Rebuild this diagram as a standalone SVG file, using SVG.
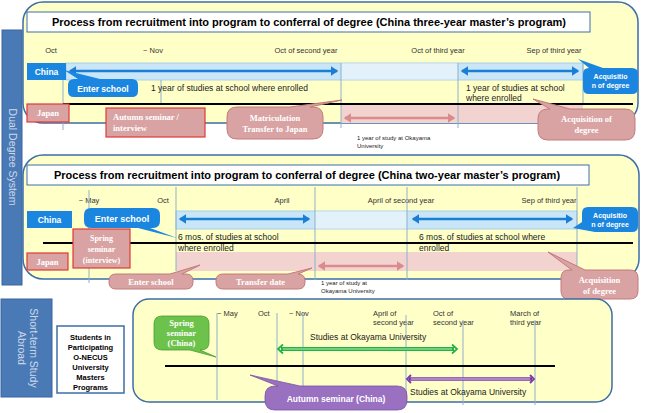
<svg xmlns="http://www.w3.org/2000/svg" width="650" height="413" viewBox="0 0 650 413">
<defs>
<style>
.panel{fill:#ffffc8;stroke:#3d6ea8;stroke-width:1.5}
.tbox{fill:#fff;stroke:#3d6ea8;stroke-width:1}
.title{font-family:"Liberation Sans",Arial,sans-serif;font-weight:bold;font-size:11px;fill:#000}
.mon{font-family:"Liberation Sans",Arial,sans-serif;font-size:7.5px;fill:#333}
.txt{font-family:"Liberation Sans",Arial,sans-serif;font-size:8.5px;fill:#222}
.sm{font-family:"Liberation Sans",Arial,sans-serif;font-size:6px;fill:#222}
.vl{stroke:#8fb0c8;stroke-width:1}
.bl{stroke:#000;stroke-width:2}
.cbox{fill:#1a86e0}
.wb{font-family:"Liberation Sans",Arial,sans-serif;font-weight:bold;fill:#fff}
.pink{fill:#d9a3a3;stroke:#e03a3a;stroke-width:1.2}
.pcall{fill:#d9a3a3;stroke:#c27b7b;stroke-width:1}
.wser{font-family:"Liberation Serif","Times New Roman",serif;font-weight:bold;fill:#fff}
.band{fill:#c8e6f8;stroke:#9cc8e6;stroke-width:0.8}
.bandl{fill:#e2f1fa}
.pband{fill:#f2d3cf}
.barr{stroke:#1a7fd4;stroke-width:2.5;fill:none}
.parr{stroke:#d98c8c;stroke-width:2.5;fill:none}
.side{fill:#4a7ab5;stroke:#3a64a0;stroke-width:1}
.sidet{font-family:"Liberation Sans",Arial,sans-serif;font-size:10.5px;fill:#ccd8ea}
</style>
<marker id="bh" markerWidth="4" markerHeight="4" refX="2.5" refY="2" orient="auto-start-reverse" markerUnits="strokeWidth">
<path d="M0,0 L3,2 L0,4 Z" fill="#1a7fd4"/>
</marker>
<marker id="ph" markerWidth="4" markerHeight="4" refX="2.5" refY="2" orient="auto-start-reverse" markerUnits="strokeWidth">
<path d="M0,0 L3,2 L0,4 Z" fill="#d98c8c"/>
</marker>
</defs>

<!-- Side bars -->
<g id="dual-degree-bar">
<rect class="side" x="2" y="30" width="20" height="255"/>
<text class="sidet" transform="translate(8.5,157) rotate(90)" text-anchor="middle">Dual Degree System</text>
</g>
<g id="short-term-bar">
<rect class="side" x="1" y="299" width="51" height="98"/>
<text class="sidet" transform="translate(30,348) rotate(90)" text-anchor="middle">Short-term Study</text>
<text class="sidet" transform="translate(18,348) rotate(90)" text-anchor="middle">Abroad</text>
</g>
<g id="students-box">
<rect x="57" y="326" width="67" height="67" fill="#fff" stroke="#3d6ea8" stroke-width="1.5"/>
<g font-family="Liberation Sans,Arial,sans-serif" font-weight="bold" font-size="7.5" fill="#000" text-anchor="middle">
<text x="90.5" y="340">Students in</text>
<text x="90.5" y="350">Participating</text>
<text x="90.5" y="360">O-NECUS</text>
<text x="90.5" y="370">University</text>
<text x="90.5" y="380">Masters</text>
<text x="90.5" y="390">Programs</text>
</g>
</g>

<!-- Panel 1 -->
<g id="panel1">
<rect class="panel" x="23" y="2" width="615" height="121" rx="20"/>
<rect class="tbox" x="27" y="12" width="563" height="20"/>
<text class="title" x="309" y="26" text-anchor="middle">Process from recruitment into program to conferral of degree (China three-year master’s program)</text>
<text class="mon" x="51" y="53" text-anchor="middle">Oct</text>
<text class="mon" x="153" y="53" text-anchor="middle">~ Nov</text>
<text class="mon" x="306" y="53" text-anchor="middle">Oct of second year</text>
<text class="mon" x="438" y="53" text-anchor="middle">Oct of third year</text>
<text class="mon" x="554" y="53" text-anchor="middle">Sep of third year</text>
<rect class="band" x="66" y="63" width="517" height="17"/>
<rect class="bandl" x="341" y="63.5" width="117" height="16"/>
<rect class="pband" x="341" y="105" width="242" height="18"/>
<line class="vl" x1="63" y1="80" x2="63" y2="130"/>
<line class="vl" x1="161" y1="80" x2="161" y2="104"/>
<line class="vl" x1="341" y1="63" x2="341" y2="128"/>
<line class="vl" x1="458" y1="63" x2="458" y2="128"/>
<line class="vl" x1="583" y1="63" x2="583" y2="104"/>
<line class="bl" x1="63" y1="104" x2="633" y2="104"/>
<line class="barr" x1="70" y1="71" x2="337" y2="71" marker-start="url(#bh)" marker-end="url(#bh)"/>
<line class="barr" x1="462" y1="71" x2="578" y2="71" marker-start="url(#bh)" marker-end="url(#bh)"/>
<line class="parr" x1="345" y1="118" x2="454" y2="118" marker-start="url(#ph)" marker-end="url(#ph)"/>
<text class="txt" x="151" y="91">1 year of studies at school where enrolled</text>
<text class="txt" x="466" y="91">1 year of studies at school</text>
<text class="txt" x="466" y="101">where enrolled</text>
<text class="sm" x="357" y="140">1 year of study at Okayama</text>
<text class="sm" x="357" y="148">University</text>
</g>
<g id="p1-china">
<rect class="cbox" x="27" y="63" width="39" height="17"/>
<text class="wb" x="46.5" y="75" font-size="8.5" text-anchor="middle">China</text>
</g>
<g id="p1-japan">
<rect class="pink" x="27" y="104" width="42" height="18"/>
<text class="wser" x="48" y="116" font-size="8.5" text-anchor="middle">Japan</text>
</g>
<g id="p1-autumn">
<rect class="pink" x="106" y="108" width="99" height="29"/>
<text class="wser" x="113" y="120" font-size="8.5">Autumn seminar /</text>
<text class="wser" x="113" y="131" font-size="8.5">interview</text>
</g>
<g id="p1-enter">
<path class="cbox" d="M74 79 L78 79 L64 70 L100 79 L132 79 Q138 79 138 85 L138 91 Q138 97 132 97 L74 97 Q68 97 68 91 L68 85 Q68 79 74 79 Z"/>
<text class="wb" x="103" y="91.5" font-size="8.5" text-anchor="middle">Enter school</text>
</g>
<g id="p1-acq-cn">
<path class="cbox" d="M589 68 L578 59 L603 68 L632 68 Q638 68 638 74 L638 88 Q638 94 632 94 L589 94 Q583 94 583 88 L583 74 Q583 68 589 68 Z"/>
<text class="wb" x="610.5" y="79" font-size="7" text-anchor="middle">Acquisitio</text>
<text class="wb" x="610.5" y="88" font-size="7" text-anchor="middle">n of degree</text>
</g>
<g id="p1-matric">
<path class="pcall" d="M237 107 L290 107 L342 100 L310 107 L313 107 Q323 107 323 117 L323 129 Q323 139 313 139 L237 139 Q227 139 227 129 L227 117 Q227 107 237 107 Z"/>
<text class="wser" x="275" y="121" font-size="8.5" text-anchor="middle">Matriculation</text>
<text class="wser" x="275" y="132" font-size="8.5" text-anchor="middle">Transfer to Japan</text>
</g>
<g id="p1-acq-jp">
<path class="pcall" d="M548 109 L550 109 L533 99 L570 109 L625 109 Q635 109 635 119 L635 130 Q635 140 625 140 L548 140 Q538 140 538 130 L538 119 Q538 109 548 109 Z"/>
<text class="wser" x="586.5" y="122" font-size="8.5" text-anchor="middle">Acquisition of</text>
<text class="wser" x="586.5" y="133" font-size="8.5" text-anchor="middle">degree</text>
</g>

<!-- Panel 2 -->
<g id="panel2">
<rect class="panel" x="23" y="155" width="616" height="124" rx="20"/>
<rect class="tbox" x="27" y="165" width="562" height="20"/>
<text class="title" x="307" y="179" text-anchor="middle">Process from recruitment into program to conferral of degree (China two-year master’s program)</text>
<text class="mon" x="89" y="203" text-anchor="middle">~ May</text>
<text class="mon" x="163" y="203" text-anchor="middle">Oct</text>
<text class="mon" x="282" y="203" text-anchor="middle">April</text>
<text class="mon" x="401" y="203" text-anchor="middle">April of second year</text>
<text class="mon" x="549" y="203" text-anchor="middle">Sep of third year</text>
<rect class="band" x="176" y="211" width="401" height="18"/>
<rect class="bandl" x="315" y="211.5" width="92" height="17"/>
<rect class="pband" x="176" y="252" width="401" height="19"/>
<line class="vl" x1="89" y1="190" x2="89" y2="283"/>
<line class="vl" x1="176" y1="187" x2="176" y2="271"/>
<line class="vl" x1="315" y1="187" x2="315" y2="280"/>
<line class="vl" x1="407" y1="187" x2="407" y2="280"/>
<line class="vl" x1="577" y1="187" x2="577" y2="271"/>
<line class="bl" x1="43" y1="243" x2="633" y2="243"/>
<line class="barr" x1="180" y1="219" x2="309" y2="219" marker-start="url(#bh)" marker-end="url(#bh)"/>
<line class="barr" x1="413" y1="219" x2="572" y2="219" marker-start="url(#bh)" marker-end="url(#bh)"/>
<line class="parr" x1="319" y1="266" x2="403" y2="266" marker-start="url(#ph)" marker-end="url(#ph)"/>
<text class="txt" x="178" y="240">6 mos. of studies at school</text>
<text class="txt" x="178" y="251">where enrolled</text>
<text class="txt" x="419" y="240">6 mos. of studies at school where</text>
<text class="txt" x="419" y="251">enrolled</text>
<text class="sm" x="321" y="285">1 year of study at</text>
<text class="sm" x="321" y="293">Okayama University</text>
</g>
<g id="p2-china">
<rect class="cbox" x="27" y="211" width="45" height="17"/>
<text class="wb" x="49.5" y="223" font-size="8.5" text-anchor="middle">China</text>
</g>
<g id="p2-japan">
<rect class="pink" x="27" y="253" width="41" height="17"/>
<text class="wser" x="47.5" y="265" font-size="8.5" text-anchor="middle">Japan</text>
</g>
<g id="p2-spring">
<rect class="pink" x="73" y="229" width="57" height="39"/>
<text class="wser" x="101.5" y="241" font-size="8" text-anchor="middle">Spring</text>
<text class="wser" x="101.5" y="252" font-size="8" text-anchor="middle">seminar</text>
<text class="wser" x="101.5" y="263" font-size="8" text-anchor="middle">(interview)</text>
</g>
<g id="p2-enter">
<path class="cbox" d="M91 208 L153 208 Q160 208 160 215 L160 221 Q160 228 153 228 L150 228 L177 238 L138 228 L91 228 Q84 228 84 221 L84 215 Q84 208 91 208 Z"/>
<text class="wb" x="122" y="221.5" font-size="9" text-anchor="middle">Enter school</text>
</g>
<g id="p2-acq-cn">
<path class="cbox" d="M588 207 L632 207 Q638 207 638 213 L638 226 Q638 232 632 232 L595 232 L573 228 L582 222 L582 213 Q582 207 588 207 Z"/>
<text class="wb" x="610" y="217.5" font-size="7" text-anchor="middle">Acquisitio</text>
<text class="wb" x="610" y="226.5" font-size="7" text-anchor="middle">n of degree</text>
</g>
<g id="p2-enter-jp">
<path class="pcall" d="M116 274 L170 274 L200 265 L182 274 L186 274 Q193 274 193 281 L193 282 Q193 289 186 289 L116 289 Q109 289 109 282 L109 281 Q109 274 116 274 Z"/>
<text class="wser" x="151" y="285" font-size="8.5" text-anchor="middle">Enter school</text>
</g>
<g id="p2-transfer">
<path class="pcall" d="M223 274 L288 274 L312 268 L298 274 L298 274 Q305 274 305 281 L305 282 Q305 289 298 289 L223 289 Q216 289 216 282 L216 281 Q216 274 223 274 Z"/>
<text class="wser" x="260.5" y="285" font-size="8.5" text-anchor="middle">Transfer date</text>
</g>
<g id="p2-acq-jp">
<path class="pcall" d="M569 270 L572 270 L548 252 L585 270 L630 270 Q638 270 638 278 L638 291 Q638 299 630 299 L569 299 Q561 299 561 291 L561 278 Q561 270 569 270 Z"/>
<text class="wser" x="599.5" y="283" font-size="8.5" text-anchor="middle">Acquisition</text>
<text class="wser" x="599.5" y="294" font-size="8.5" text-anchor="middle">of degree</text>
</g>

<!-- Panel 3 -->
<g id="panel3">
<rect class="panel" x="133" y="299" width="479" height="103" rx="16"/>
<text class="mon" x="217" y="316">~ May</text>
<text class="mon" x="258" y="316">Oct</text>
<text class="mon" x="289" y="316">~ Nov</text>
<text class="mon" x="373" y="316">April of</text>
<text class="mon" x="373" y="325">second year</text>
<text class="mon" x="433" y="316">Oct of</text>
<text class="mon" x="433" y="325">second year</text>
<text class="mon" x="510" y="316">March of</text>
<text class="mon" x="510" y="325">third year</text>
<line class="vl" x1="217" y1="313" x2="217" y2="400"/>
<line class="vl" x1="277" y1="313" x2="277" y2="400"/>
<line class="vl" x1="303" y1="313" x2="303" y2="400"/>
<line class="vl" x1="406" y1="315" x2="406" y2="400"/>
<line class="vl" x1="463" y1="320" x2="463" y2="405"/>
<line class="vl" x1="535" y1="320" x2="535" y2="405"/>
<line class="bl" x1="165" y1="366" x2="555" y2="366"/>
<text class="txt" x="310" y="340">Studies at Okayama University</text>
<text class="txt" x="410" y="395">Studies at Okayama University</text>
</g>
<g id="green-arrow">
<line x1="281" y1="349" x2="454" y2="349" stroke="#22b14c" stroke-width="4"/>
<line x1="283" y1="349" x2="452" y2="349" stroke="#b9f0a8" stroke-width="1.2"/>
<polyline points="283,344.5 278,349 283,353.5" fill="none" stroke="#22b14c" stroke-width="1.8"/>
<polyline points="452,344.5 457,349 452,353.5" fill="none" stroke="#22b14c" stroke-width="1.8"/>
</g>
<g id="purple-arrow">
<line x1="409" y1="379" x2="532" y2="379" stroke="#7a3aa8" stroke-width="3.5"/>
<line x1="411" y1="379" x2="530" y2="379" stroke="#e4cdf2" stroke-width="1"/>
<polyline points="411,375 407,379 411,383" fill="none" stroke="#7a3aa8" stroke-width="1.8"/>
<polyline points="530,375 534,379 530,383" fill="none" stroke="#7a3aa8" stroke-width="1.8"/>
</g>
<g id="spring-china">
<path d="M162 316 L201 316 Q209 316 209 324 L209 342 Q209 350 201 350 L200 350 L216 357 L190 350 L162 350 Q154 350 154 342 L154 324 Q154 316 162 316 Z" fill="#6cc24a" stroke="#4aa030" stroke-width="0.8"/>
<text class="wser" x="181.5" y="326" font-size="8.5" text-anchor="middle">Spring</text>
<text class="wser" x="181.5" y="336" font-size="8.5" text-anchor="middle">seminar</text>
<text class="wser" x="181.5" y="346" font-size="8.5" text-anchor="middle">(China)</text>
</g>
<g id="autumn-china">
<path d="M275 386 L278 386 L250 375 L300 386 L397 386 Q407 386 407 396 L407 400 Q407 410 397 410 L275 410 Q265 410 265 400 L265 396 Q265 386 275 386 Z" fill="#9a70c0" stroke="#7a50a8" stroke-width="0.8"/>
<text class="wb" x="336" y="402" font-size="8.5" text-anchor="middle">Autumn seminar (China)</text>
</g>
</svg>
